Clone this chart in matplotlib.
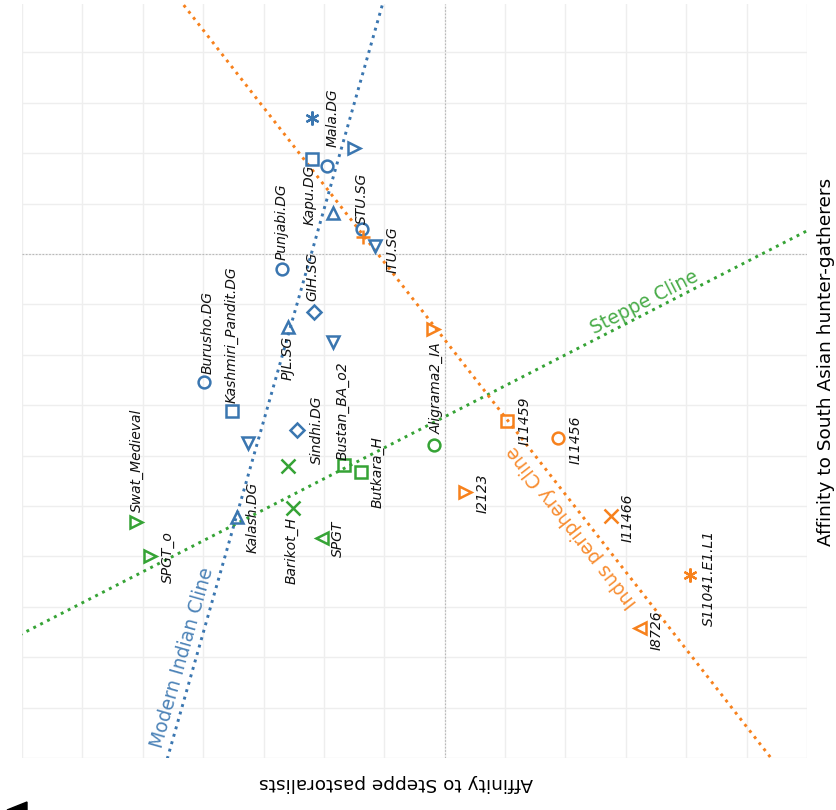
import numpy as np
import matplotlib
matplotlib.use('Agg')
import matplotlib.pyplot as plt
from matplotlib.patches import Polygon

# colours
blue = "#3a76b0"
orange = "#f7811c"
green = "#35a335"
grid_color = "#eeeeee"

# Modern Indian samples (blue)
blue_x = [-2.19, -1.51, -1.95, -2.19, -1.85, -1.37, -1.16, -2.70, -2.17, -2.60, -1.85, -3.99, -3.53, -3.25, -2.45, -3.44]
blue_y = [2.70, 2.10, 1.75, 1.88, 0.81, 0.50, 0.16, -0.30, -1.15, -1.45, -1.75, -2.54, -3.12, -3.75, -3.49, -5.22]
blue_m = ["ast", ">", "o", "s", "^", "o", "v", "o", "D", "^", "v", "o", "s", "v", "D", "^"]

# Swat valley / steppe samples (green)
green_x = [-2.60, -2.52, -1.67, -1.39, -2.04, -5.12, -4.88, -0.17]
green_y = [-4.21, -5.04, -4.19, -4.33, -5.63, -5.32, -5.99, -3.79]
green_m = ["x", "x", "s", "s", "<", ">", ">", "o"]

# Indus periphery samples (orange)
orange_x = [-0.20, -1.36, 1.04, 1.87, 0.33, 2.75, 4.06, 3.23]
orange_y = [-1.49, 0.34, -3.31, -3.65, -4.72, -5.20, -6.37, -7.42]
orange_m = [">", "+", "s", "o", ">", "x", "ast", "<"]

# sample labels and where they sit
label_names = ["Mala.DG", "Kapu.DG", "STU.SG", "ITU.SG", "Punjabi.DG", "GIH.SG", "PJL.SG",
               "Burusho.DG", "Kashmiri_Pandit.DG", "Sindhi.DG", "Kalash.DG", "Bustan_BA_o2",
               "Butkara_H", "Barikot_H", "SPGT", "Swat_Medieval", "SPGT_o", "Aligrama2_IA",
               "I11459", "I11456", "I2123", "I11466", "S11041.E1.L1", "I8726"]
label_x = [-1.85, -2.24, -1.37, -0.86, -2.70, -2.19, -2.60, -3.92, -3.53, -2.12, -3.18, -1.69,
           -1.11, -2.53, -1.77, -5.10, -4.59, -0.13, 1.32, 2.17, 0.63, 3.03, 4.37, 3.51]
label_y = [2.70, 1.17, 1.11, 0.08, 0.65, -0.44, -2.06, -1.55, -1.61, -3.49, -5.22, -3.10,
           -4.33, -5.89, -5.65, -4.09, -6.01, -2.66, -3.31, -3.69, -4.74, -5.24, -6.43, -7.46]

# clines: slope, intercept
cline_names = ["Modern Indian Cline", "Steppe Cline", "Indus periphery Cline"]
cline_slope = [4.20, 0.615, -1.536]
cline_icpt = [9.28, -3.23, -1.70]
cline_text_x = [-4.34, 3.31, 2.10]
cline_text_y = [-8.00, -0.97, -5.42]
cline_text_rot = [74.1, 27.2, 127.95]
cline_colors = [blue, green, orange]

xlim = (-7, 6)
ylim = (-10, 4.96)

fig = plt.figure(figsize=(8.37, 8.10), dpi=100)
ax = fig.add_axes([22 / 837, 1 - 758 / 810, (807 - 22) / 837, (758 - 4) / 810])
ax.set_xlim(*xlim)
ax.set_ylim(*ylim)
ax.set_xticks(np.arange(-7, 7, 1))
ax.set_yticks(np.arange(-10, 5, 1))
ax.tick_params(length=0, labelbottom=False, labelleft=False)
ax.grid(True, color=grid_color, linewidth=1.0)
ax.set_axisbelow(True)
for spine in ax.spines.values():
    spine.set_visible(False)

ax.axvline(0, color="#b8b8b8", linestyle=(0, (1.5, 1.5)), linewidth=0.8, zorder=1)
ax.axhline(0, color="#b8b8b8", linestyle=(0, (1.5, 1.5)), linewidth=0.8, zorder=1)

xs = np.linspace(xlim[0] - 1, xlim[1] + 1, 200)
for slope, icpt, col in zip(cline_slope, cline_icpt, cline_colors):
    ax.plot(xs, slope * xs + icpt, color=col, linestyle=":", linewidth=2.1, zorder=2)

for name, tx, ty, rot, col in zip(cline_names, cline_text_x, cline_text_y, cline_text_rot, cline_colors):
    ax.text(tx, ty, name, color=col, fontsize=13.5, rotation=rot, ha="center", va="center",
            rotation_mode="anchor", alpha=0.9, zorder=3)


def draw_points(px, py, markers, col):
    for x, y, m in zip(px, py, markers):
        if m == "ast":
            ax.plot(x, y, marker=(6, 2, 0), color=col, markersize=10, markeredgewidth=1.6, zorder=4)
        elif m in ("x", "+"):
            ax.plot(x, y, marker=m, color=col, markersize=9.5, markeredgewidth=1.8, zorder=4)
        else:
            size = 7.5 if m == "D" else 8.5
            ax.plot(x, y, marker=m, markerfacecolor="none", markeredgecolor=col,
                    markersize=size, markeredgewidth=1.8, zorder=4)


draw_points(blue_x, blue_y, blue_m, blue)
draw_points(green_x, green_y, green_m, green)
draw_points(orange_x, orange_y, orange_m, orange)

for name, tx, ty in zip(label_names, label_x, label_y):
    ax.text(tx, ty, name, fontsize=10, style="italic", rotation=90, ha="center", va="center",
            color="#111111", zorder=5)

fig.text(826 / 837, 1 - 362 / 810, "Affinity to South Asian hunter-gatherers", rotation=90,
         fontsize=13.3, ha="center", va="center")
fig.text(396 / 837, 1 - 783 / 810, "Affinity to Steppe pastoralists", rotation=180,
         fontsize=13.3, ha="center", va="center")

wedge = Polygon([[7 / 837, 0], [27 / 837, 8 / 810], [27 / 837, 0]], closed=True,
                transform=fig.transFigure, color="black")
fig.patches.append(wedge)

fig.savefig("out.png", dpi=100, facecolor="white")
